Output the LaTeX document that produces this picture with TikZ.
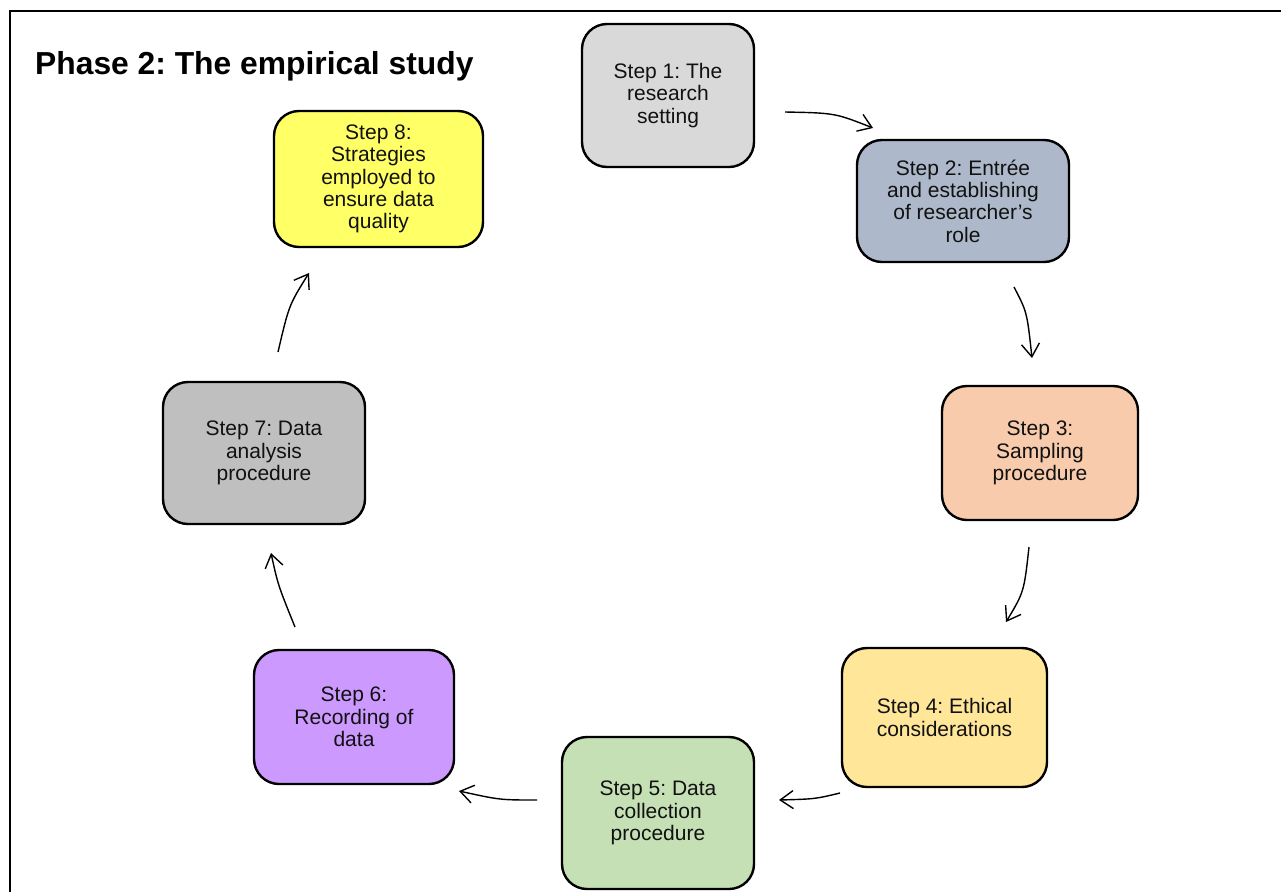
\documentclass[tikz,border=0pt]{standalone}
\usepackage{fontspec}
\setmainfont{Liberation Sans}
\usetikzlibrary{arrows.meta}
\frenchspacing
\definecolor{c1}{HTML}{D9D9D9}
\definecolor{c2}{HTML}{ADB9CA}
\definecolor{c3}{HTML}{F8CBAD}
\definecolor{c4}{HTML}{FFE699}
\definecolor{c5}{HTML}{C5E0B4}
\definecolor{c6}{HTML}{CC99FF}
\definecolor{c7}{HTML}{BFBFBF}
\definecolor{c8}{HTML}{FFFF66}
\definecolor{txt}{HTML}{111111}
\tikzset{
  stepbox/.style={draw=black, line width=2.4pt, rounded corners=25pt, align=center,
    inner sep=0pt, text=txt, font=\fontsize{21}{22.3}\selectfont},
  flow/.style={line width=1.4pt, -{Straight Barb[length=13pt,width=18pt,line width=1.4pt]}},
  frame/.style={line width=1.6pt}
}
\begin{document}
\begin{tikzpicture}[x=1pt,y=-1pt]
\useasboundingbox (0,0) rectangle (1281,892);
\coordinate (ftr) at (1281,11);
\coordinate (ftl) at (10,11);
\coordinate (fbl) at (10,892);
\draw[frame] (ftr) -- (ftl) -- (fbl);
\node[anchor=base west, inner sep=0pt, font=\bfseries\fontsize{31.8}{36}\selectfont] (title) at (35,74) {Phase 2: The empirical study};

\node[stepbox, fill=c1, minimum width=172pt, minimum height=143pt] (s1) at (668,95.5) {Step 1: The\\research\\setting};
\node[stepbox, fill=c2, minimum width=212pt, minimum height=122pt] (s2) at (963,201) {Step 2: Entrée\\and establishing\\of researcher’s\\role};
\node[stepbox, fill=c3, minimum width=196pt, minimum height=134pt] (s3) at (1040,453) {Step 3:\\Sampling\\procedure};
\node[stepbox, fill=c4, minimum width=205pt, minimum height=139pt] (s4) at (944.5,717.5) {Step 4: Ethical\\considerations};
\node[stepbox, fill=c5, minimum width=192pt, minimum height=152pt] (s5) at (658,813) {Step 5: Data\\collection\\procedure};
\node[stepbox, fill=c6, minimum width=200pt, minimum height=134pt] (s6) at (354,717) {Step 6:\\Recording of\\data};
\node[stepbox, fill=c7, minimum width=202pt, minimum height=142pt] (s7) at (264,453) {Step 7: Data\\analysis\\procedure};
\node[stepbox, fill=c8, minimum width=209pt, minimum height=136pt] (s8) at (378.5,179) {Step 8:\\Strategies\\employed to\\ensure data\\quality};

\coordinate (a1s) at (785,112); \coordinate (a1e) at (873,128);
\coordinate (a2s) at (1014,287); \coordinate (a2e) at (1032,358);
\coordinate (a3s) at (1029,547); \coordinate (a3e) at (1006,622);
\coordinate (a4s) at (840,793); \coordinate (a4e) at (779,800);
\coordinate (a5s) at (537,800); \coordinate (a5e) at (459,791);
\coordinate (a6s) at (295,627); \coordinate (a6e) at (271,553);
\coordinate (a7s) at (278,352); \coordinate (a7e) at (309,273);

\draw[flow] (a1s) .. controls (835,113) .. (a1e);
\draw[flow] (a2s) .. controls (1027,312) .. (a2e);
\draw[flow] (a3s) .. controls (1024,592) .. (a3e);
\draw[flow] (a4s) .. controls (815,799) .. (a4e);
\draw[flow] (a5s) .. controls (500,800) .. (a5e);
\draw[flow] (a6s) .. controls (278,585) .. (a6e);
\draw[flow] (a7s) .. controls (289,305) .. (a7e);
\end{tikzpicture}
\end{document}
